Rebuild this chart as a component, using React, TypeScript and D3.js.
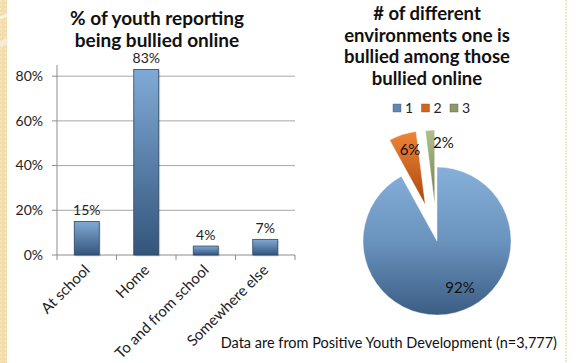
import React from "react";
import * as d3 from "d3";

const categories = ["At school", "Home", "To and from school", "Somewhere else"];
const barValues = [0.15, 0.83, 0.04, 0.07];
const barLabels = ["15%", "83%", "4%", "7%"];
const yTicks = [0, 0.2, 0.4, 0.6, 0.8];
const pieKeys = ["1", "2", "3"];
const pieValues = [0.92, 0.06, 0.02];
const pieLabels = ["92%", "6%", "2%"];
const barTitle = ["% of youth reporting", "being bullied online"];
const pieTitle = ["# of different", "environments one is", "bullied among those", "bullied online"];
const footer = "Data are from Positive Youth Development (n=3,777)";

const W = 577;
const H = 363;
const FONT = "Lato, 'DejaVu Sans', sans-serif";

export default function App() {
  const x = d3.scaleBand<string>().domain(categories).range([57, 295]).padding(0);
  const y = d3.scaleLinear().domain([0, 0.85]).range([255, 65]);
  const barW = x.bandwidth() * 0.42;

  const cx = 437, cy = 241, r = 74;
  const explode = [0, 38, 37];
  const pieGen = d3.pie<number>().sort(null).startAngle(0).endAngle(2 * Math.PI);
  const arcs = pieGen(pieValues);
  const arcGen = d3.arc<d3.PieArcDatum<number>>().innerRadius(0).outerRadius(r);
  const fills = ["url(#pBlue)", "url(#pOrange)", "url(#pGreen)"];
  const legendFills = ["#5f87b3", "#d4641c", "#8c9a6a"];

  return (
    <svg width={W} height={H} style={{ position: "absolute", left: 0, top: 0, fontFamily: FONT }}>
      <defs>
        <linearGradient id="barG" x1="0" y1="0" x2="0" y2="1">
          <stop offset="0" stopColor="#80aad6" />
          <stop offset="1" stopColor="#33557b" />
        </linearGradient>
        <linearGradient id="pBlue" gradientUnits="userSpaceOnUse" x1="0" y1={-r} x2="0" y2={r}>
          <stop offset="0" stopColor="#86b0da" />
          <stop offset="0.5" stopColor="#6a93be" />
          <stop offset="1" stopColor="#3b5d84" />
        </linearGradient>
        <linearGradient id="pOrange" x1="0" y1="0" x2="0" y2="1">
          <stop offset="0" stopColor="#ee8436" />
          <stop offset="1" stopColor="#a9470f" />
        </linearGradient>
        <linearGradient id="pGreen" x1="0" y1="0" x2="0" y2="1">
          <stop offset="0" stopColor="#b2c08f" />
          <stop offset="1" stopColor="#6a7a48" />
        </linearGradient>
        <pattern id="dots" width="4" height="4" patternUnits="userSpaceOnUse">
          <rect width="4" height="4" fill="#f2dcaa" />
          <rect width="2" height="2" fill="#f6e4bd" />
        </pattern>
      </defs>
      <rect width={W} height={H} fill="#ffffff" />
      {/* left decorative border */}
      <rect x={0} y={0} width={7} height={H} fill="url(#dots)" />
      <path d="M0,18 Q4,16 7,15" stroke="#fbf1dc" strokeWidth={3} fill="none" />
      <path d="M0,46 Q4,42 7,40" stroke="#f4ecdd" strokeWidth={5} fill="none" />
      {/* right dotted border */}
      <line x1={566} x2={566} y1={0} y2={H} stroke="#f3d59b" strokeWidth={1.2} strokeDasharray="2,1" />

      {/* ===== Bar chart ===== */}
      <g>
        {barTitle.map((t, i) => (
          <text key={t} x={157} y={25 + i * 22} textAnchor="middle" fontSize={19} fontWeight="bold" fill="#111">
            {t}
          </text>
        ))}
        {yTicks.map((t) => (
          <g key={t}>
            {t > 0 && <line x1={57} x2={295} y1={y(t)} y2={y(t)} stroke="#a6a6a6" strokeWidth={1} />}
            <line x1={52} x2={57} y1={y(t)} y2={y(t)} stroke="#8c8c8c" />
            <text x={43} y={y(t)} dy="0.35em" textAnchor="end" fontSize={14} fill="#222">
              {d3.format(".0%")(t)}
            </text>
          </g>
        ))}
        <line x1={57} x2={57} y1={y(0.85)} y2={y(0)} stroke="#8c8c8c" />
        <line x1={57} x2={295} y1={y(0)} y2={y(0)} stroke="#8c8c8c" />
        {[...categories.map((c) => x(c) as number), 295].map((px, i) => (
          <line key={i} x1={px} x2={px} y1={y(0)} y2={y(0) + 5} stroke="#8c8c8c" />
        ))}
        {categories.map((c, i) => {
          const cxb = (x(c) as number) + x.bandwidth() / 2;
          const top = y(barValues[i]);
          return (
            <g key={c}>
              <rect x={cxb - barW / 2 + 1.5} y={top + 1.5} width={barW} height={y(0) - top} fill="#000" opacity={0.12} />
              <rect x={cxb - barW / 2} y={top} width={barW} height={y(0) - top} fill="url(#barG)" stroke="#2c4664" strokeWidth={0.8} />
              <text x={cxb} y={top - 6} textAnchor="middle" fontSize={14} fill="#222">
                {barLabels[i]}
              </text>
              <text
                transform={`translate(${cxb + 4},${y(0) + 16}) rotate(-45)`}
                textAnchor="end"
                fontSize={15}
                fill="#222"
              >
                {c}
              </text>
            </g>
          );
        })}
      </g>

      {/* ===== Pie chart ===== */}
      <g>
        {pieTitle.map((t, i) => (
          <text key={t} x={427} y={20 + i * 21.7} textAnchor="middle" fontSize={18.5} fontWeight="bold" fill="#111">
            {t}
          </text>
        ))}
        {pieKeys.map((k, i) => (
          <g key={k} transform={`translate(${393 + i * 28.5},108)`}>
            <rect x={0} y={-4} width={8} height={8} fill={legendFills[i]} stroke="#555" strokeWidth={0.4} />
            <text x={12} y={0} dy="0.35em" fontSize={14} fill="#222">
              {k}
            </text>
          </g>
        ))}
        {arcs.map((a, i) => {
          const mid = (a.startAngle + a.endAngle) / 2;
          const dx = Math.sin(mid) * explode[i];
          const dy = -Math.cos(mid) * explode[i];
          return (
            <path
              key={i}
              transform={`translate(${cx + dx},${cy + dy})`}
              d={arcGen(a) as string}
              fill={fills[i]}
              stroke="rgba(255,255,255,0.5)"
              strokeWidth={0.8}
            />
          );
        })}
        <text x={460} y={288} dy="0.35em" textAnchor="middle" fontSize={15} fill="#111">
          {pieLabels[0]}
        </text>
        <text x={410} y={150} dy="0.35em" textAnchor="middle" fontSize={15} fill="#111">
          {pieLabels[1]}
        </text>
        <text x={433} y={143} dy="0.35em" textAnchor="start" fontSize={15} fill="#111">
          {pieLabels[2]}
        </text>
      </g>

      <text x={557} y={348} textAnchor="end" fontSize={14.5} fill="#111">
        {footer}
      </text>
    </svg>
  );
}
